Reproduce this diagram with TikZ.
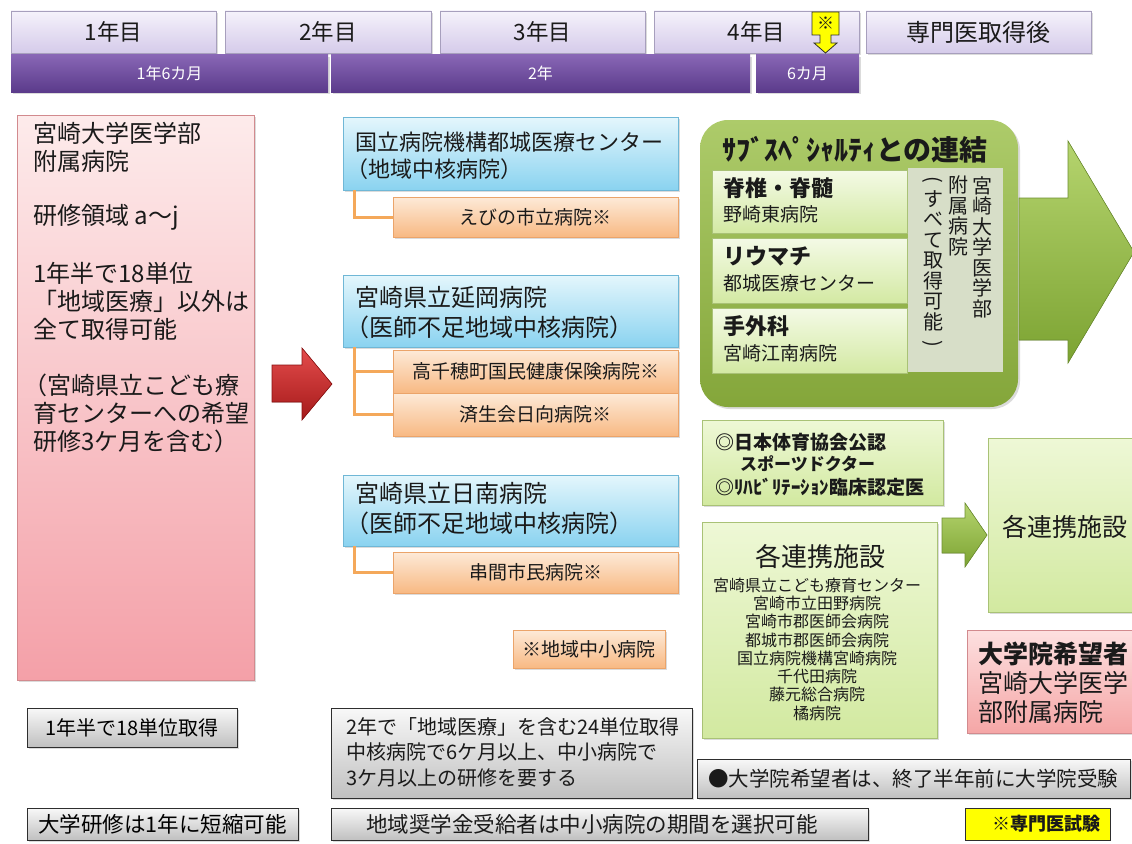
\documentclass[tikz,border=0pt]{standalone}
\usepackage{fontspec}
\setmainfont{Noto Sans CJK JP}
\usetikzlibrary{shadows}
\definecolor{txt}{HTML}{1A1A1A}
\definecolor{yrT}{HTML}{F5F2FB}
\definecolor{yrB}{HTML}{D5CBEA}
\definecolor{yrD}{HTML}{A79FBD}
\definecolor{puT}{HTML}{8866B5}
\definecolor{puB}{HTML}{5B3B8B}
\definecolor{pkT}{HTML}{FDEBEB}
\definecolor{pkB}{HTML}{F4A0A8}
\definecolor{pkD}{HTML}{D28A8E}
\definecolor{rdT}{HTML}{E44C4C}
\definecolor{rdB}{HTML}{A51A1A}
\definecolor{rdD}{HTML}{8A1010}
\definecolor{blT}{HTML}{E4F6FC}
\definecolor{blB}{HTML}{8AD3F0}
\definecolor{blD}{HTML}{6FB7D6}
\definecolor{orT}{HTML}{FDEAD8}
\definecolor{orB}{HTML}{F8B983}
\definecolor{orD}{HTML}{EBA46A}
\definecolor{orL}{HTML}{F4A85A}
\definecolor{gnT}{HTML}{ADCB6A}
\definecolor{gnB}{HTML}{84A63A}
\definecolor{glT}{HTML}{F4FAE6}
\definecolor{glB}{HTML}{D3E9A3}
\definecolor{glD}{HTML}{A9C276}
\definecolor{lgT}{HTML}{EEF8D6}
\definecolor{lgB}{HTML}{D2E9A0}
\definecolor{gvert}{HTML}{D7DEC8}
\definecolor{gaT}{HTML}{B5D46E}
\definecolor{gaB}{HTML}{7CA332}
\definecolor{gaD}{HTML}{6E9030}
\definecolor{grT}{HTML}{F8F8F8}
\definecolor{grB}{HTML}{C0C0C0}
\definecolor{grD}{HTML}{2E2E2E}
\definecolor{yel}{HTML}{FFFF00}
\definecolor{pk2T}{HTML}{FDE0E0}
\definecolor{pk2B}{HTML}{F5A6A6}
\tikzset{
  tx/.style={inner sep=0pt, text=txt},
  bx/.style={rectangle, inner sep=0pt, line width=0.8pt},
  shd/.style={drop shadow={opacity=0.28, shadow xshift=2pt, shadow yshift=-2pt}},
  yearbox/.style={bx, shd, draw=yrD, top color=yrT, bottom color=yrB, text=txt, font=\fontsize{22.5}{24}\selectfont},
  periodbox/.style={bx, shd, top color=puT, bottom color=puB, text=white, font=\fontsize{16}{18}\selectfont},
  pinkbox/.style={bx, shd, draw=pkD, top color=pkT, bottom color=pkB},
  bluebox/.style={bx, shd, draw=blD, top color=blT, bottom color=blB},
  orangebox/.style={bx, shd, draw=orD, top color=orT, bottom color=orB, text=txt, font=\fontsize{19}{21}\selectfont},
  conn/.style={draw=orL, line width=3pt},
  greenblock/.style={bx, shd, rounded corners=28pt, top color=gnT, bottom color=gnB},
  innerbox/.style={bx, draw=glD, line width=0.6pt, top color=glT, bottom color=glB},
  vertbox/.style={bx, fill=gvert},
  lgbox/.style={bx, shd, draw=glD, top color=lgT, bottom color=lgB},
  pk2box/.style={bx, shd, draw=pkD, top color=pk2T, bottom color=pk2B},
  graybox/.style={bx, shd, draw=grD, line width=1pt, top color=grT, bottom color=grB},
  yellowbox/.style={bx, draw=grD, line width=1pt, fill=yel},
  greenarrow/.style={top color=gaT, bottom color=gaB, draw=gaD, line width=0.6pt},
  redarrow/.style={top color=rdT, bottom color=rdB, draw=rdD, line width=0.6pt},
  f16/.style={font=\fontsize{16}{18}\selectfont},
  f19/.style={font=\fontsize{19}{21}\selectfont},
  f20/.style={font=\fontsize{20}{22}\selectfont},
  f21/.style={font=\fontsize{21.5}{23}\selectfont},
  f22/.style={font=\fontsize{22}{24}\selectfont},
  f24/.style={font=\fontsize{24}{26}\selectfont},
  f25/.style={font=\fontsize{25}{27}\selectfont},
}
\begin{document}
\begin{tikzpicture}[x=1pt,y=-1pt]
\useasboundingbox (0,0) rectangle (1132,843);
\fill[white] (0,0) rectangle (1132,843);

% ---------- top row ----------
\node[yearbox, minimum width=205, minimum height=42] (y1) at (113.5,32) {1年目};
\node[yearbox, minimum width=206, minimum height=42] (y2) at (328,32) {2年目};
\node[yearbox, minimum width=205, minimum height=42] (y3) at (542.5,32) {3年目};
\node[yearbox, minimum width=205, minimum height=42] (y4) at (756.5,32) {4年目};
\node[yearbox, minimum width=225, minimum height=42, font=\fontsize{24}{26}\selectfont] (y5) at (978.5,32) {専門医取得後};

\node[periodbox, minimum width=317, minimum height=37] (p1) at (169.5,73.5) {1年6カ月};
\node[periodbox, minimum width=419, minimum height=37] (p2) at (540.5,73.5) {2年};
\node[periodbox, minimum width=103, minimum height=37] (p3) at (807.5,73.5) {6カ月};

% exam marker
\filldraw[fill=yel, draw=grD, line width=0.8pt] (812,12) -- (839,12) -- (839,35) -- (831,35) -- (831,43) -- (837,43) -- (825.5,53) -- (814,43) -- (820,43) -- (820,35) -- (812,35) -- cycle;
\node[tx, font=\bfseries\fontsize{17}{18}\selectfont] (mk) at (825.5,23.5) {※};

% ---------- left pink ----------
\node[pinkbox, minimum width=237, minimum height=565] (pink) at (135.5,397.5) {};
\foreach \yy/\xx/\tt [count=\i] in {133/33/宮崎大学医学部, 161/33/附属病院, 217/33/研修領域 a〜j, 273/33/1年半で18単位, 301/33/「地域医療」以外は, 329/33/全て取得可能, 385/23/（宮崎県立こども療, 413/33/育センターへの希望, 441/33/研修3ケ月を含む）}
  \node[tx, f24, anchor=west] (pk\i) at (\xx,\yy) {\tt};

% red arrow
\filldraw[redarrow] (272,365) -- (302,365) -- (302,348) -- (332,384) -- (302,420) -- (302,402) -- (272,402) -- cycle;

% ---------- middle column ----------
\node[bluebox, minimum width=335, minimum height=73] (b1) at (510.5,153.5) {};
\node[tx, f22, anchor=west] (b1a) at (355,142) {国立病院機構都城医療センター};
\node[tx, f22, anchor=west] (b1b) at (346,169) {（地域中核病院）};
\node[orangebox, minimum width=285, minimum height=40] (o1) at (535.5,217) {えびの市立病院※};
\draw[conn] ([xshift=12pt]b1.south west) |- (o1.west);

\node[bluebox, minimum width=335, minimum height=72] (b2) at (510.5,311) {};
\node[tx, f24, anchor=west] (b2a) at (355,297) {宮崎県立延岡病院};
\node[tx, f24, anchor=west] (b2b) at (345,327) {（医師不足地域中核病院）};
\node[orangebox, minimum width=285, minimum height=43] (o2) at (535.5,371.5) {高千穂町国民健康保険病院※};
\node[orangebox, minimum width=285, minimum height=43] (o3) at (535.5,414.5) {済生会日向病院※};
\draw[conn] ([xshift=12pt]b2.south west) |- (o2.west);
\draw[conn] ([xshift=12pt]b2.south west) |- (o3.west);

\node[bluebox, minimum width=335, minimum height=71] (b3) at (510.5,510.5) {};
\node[tx, f24, anchor=west] (b3a) at (355,493) {宮崎県立日南病院};
\node[tx, f24, anchor=west] (b3b) at (345,523) {（医師不足地域中核病院）};
\node[orangebox, minimum width=285, minimum height=41] (o4) at (535.5,572.5) {串間市民病院※};
\draw[conn] ([xshift=12pt]b3.south west) |- (o4.west);

\node[orangebox, minimum width=152, minimum height=38] (o5) at (589,649) {※地域中小病院};

% ---------- subspecialty block ----------
\node[greenblock, minimum width=318, minimum height=287] (gblk) at (859,263.5) {};
\node[tx, font=\bfseries\fontsize{28}{30}\selectfont] (gtitle) at (855,150) {ｻﾌﾞｽﾍﾟｼｬﾙﾃｨとの連結};
\node[innerbox, minimum width=195, minimum height=63] (g1) at (809.5,201.5) {};
\node[innerbox, minimum width=195, minimum height=65] (g2) at (809.5,270.5) {};
\node[innerbox, minimum width=195, minimum height=65] (g3) at (809.5,340.5) {};
\node[tx, font=\bfseries\fontsize{22}{24}\selectfont, anchor=west] (g1a) at (723,188) {脊椎・脊髄};
\node[tx, f19, anchor=west] (g1b) at (723,214) {野崎東病院};
\node[tx, font=\bfseries\fontsize{22}{24}\selectfont, anchor=west] (g2a) at (723,256) {リウマチ};
\node[tx, f19, anchor=west] (g2b) at (723,283) {都城医療センター};
\node[tx, font=\bfseries\fontsize{22}{24}\selectfont, anchor=west] (g3a) at (723,326) {手外科};
\node[tx, f19, anchor=west] (g3b) at (723,353) {宮崎江南病院};
\node[vertbox, minimum width=95, minimum height=204] (gv) at (955.5,270) {};
\node[tx, font=\fontsize{20}{20.5}\selectfont, align=center, anchor=north] (gv1) at (982,176) {宮\\崎\\大\\学\\医\\学\\部};
\node[tx, font=\fontsize{20}{20.5}\selectfont, align=center, anchor=north] (gv2) at (958,176) {附\\属\\病\\院};
\node[tx, font=\fontsize{20}{20.5}\selectfont, align=center, anchor=north] (gv3) at (933,176) {\rotatebox[origin=c]{-90}{(}\\す\\べ\\て\\取\\得\\可\\能\\\rotatebox[origin=c]{-90}{)}};

% big green arrow
\filldraw[greenarrow] (1019,198) -- (1068,198) -- (1068,141) -- (1134,252) -- (1068,363) -- (1068,340) -- (1019,340) -- cycle;

% ---------- lower right ----------
\node[lgbox, minimum width=241, minimum height=85] (sp) at (822.5,462.5) {};
\node[tx, font=\bfseries\fontsize{19}{21}\selectfont, anchor=west] (sp1) at (715,442) {◎日本体育協会公認};
\node[tx, font=\bfseries\fontsize{17}{19}\selectfont, anchor=west] (sp2) at (740,464) {スポーツドクター};
\node[tx, font=\bfseries\fontsize{19}{21}\selectfont, anchor=west] (sp3) at (715,487) {◎ﾘﾊﾋﾞﾘﾃｰｼｮﾝ臨床認定医};

\node[lgbox, minimum width=235, minimum height=216] (lst) at (819.5,630) {};
\node[tx, font=\fontsize{26}{28}\selectfont] (lstt) at (820,557) {各連携施設};
\foreach \tt [count=\i] in {宮崎県立こども療育センター, 宮崎市立田野病院, 宮崎市郡医師会病院, 都城市郡医師会病院, 国立病院機構宮崎病院, 千代田病院, 藤元総合病院, 橘病院}
  \node[tx, f16] (li\i) at (817,{585+18.3*(\i-1)}) {\tt};

\filldraw[greenarrow] (942,518) -- (965,518) -- (965,503) -- (987,535) -- (965,567) -- (965,553) -- (942,553) -- cycle;

\node[lgbox, minimum width=160, minimum height=174] (rt) at (1068,525) {};
\node[tx, f25, anchor=west] (rtt) at (1002,527) {各連携施設};

\node[pk2box, minimum width=180, minimum height=103] (grad) at (1057,681.5) {};
\node[tx, font=\bfseries\fontsize{25}{27}\selectfont, anchor=west] (grad1) at (978,654) {大学院希望者};
\node[tx, f25, anchor=west] (grad2) at (978,683) {宮崎大学医学};
\node[tx, f25, anchor=west] (grad3) at (978,712) {部附属病院};

% ---------- bottom notes ----------
\node[graybox, minimum width=210, minimum height=39, f20] (nA) at (132,727.5) {1年半で18単位取得};
\node[graybox, minimum width=361, minimum height=90] (nB) at (511.5,753) {};
\node[tx, f20, anchor=west] (nB1) at (346,727) {2年で「地域医療」を含む24単位取得};
\node[tx, f20, anchor=west] (nB2) at (346,752) {中核病院で6ケ月以上、中小病院で};
\node[tx, f20, anchor=west] (nB3) at (346,778) {3ケ月以上の研修を要する};
\node[graybox, minimum width=433, minimum height=39] (nC) at (913.5,778.5) {};
\node[tx, font=\fontsize{20.5}{22}\selectfont, anchor=west] (nC1) at (708,779) {●大学院希望者は、終了半年前に大学院受験};
\node[graybox, minimum width=271, minimum height=32, f21] (nD) at (162.5,824) {大学研修は1年に短縮可能};
\node[graybox, minimum width=537, minimum height=32] (nE) at (599.5,824) {};
\node[tx, f21, anchor=west] (nE1) at (366,824) {地域奨学金受給者は中小病院の期間を選択可能};
\node[yellowbox, minimum width=145, minimum height=32] (ex) at (1037.5,824) {};
\node[tx, font=\bfseries\fontsize{18}{20}\selectfont] (ex1) at (1046,824) {※専門医試験};
\end{tikzpicture}
\end{document}
